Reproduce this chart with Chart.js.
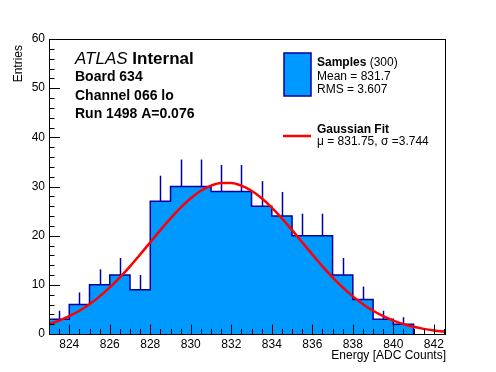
<!DOCTYPE html>
<html>
<head>
<meta charset="utf-8">
<script src="https://cdn.jsdelivr.net/npm/chart.js@4"></script>
<style>
  html, body { margin: 0; padding: 0; background: #fff; }
  #wrap { width: 496px; height: 372px; }
</style>
</head>
<body>
<div id="wrap"><canvas id="myChart" width="496" height="372"></canvas></div>
<script>
// histogram bins (lower edges, width 1 ADC count)
var binEdges = [823, 824, 825, 826, 827, 828, 829, 830, 831, 832, 833, 834, 835, 836, 837, 838, 839, 840];
var counts   = [3, 6, 10, 12, 9, 27, 30, 30, 29, 29, 26, 24, 20, 20, 12, 7, 3, 2];
var errors   = [1.73, 2.45, 3.16, 3.46, 3, 5.2, 5.48, 5.48, 5.39, 5.39, 5.1, 4.9, 4.47, 4.47, 3.46, 2.65, 1.73, 1.41];

// gaussian fit curve
var fitX = [823, 823.5, 824, 824.5, 825, 825.5, 826, 826.5, 827, 827.5, 828, 828.5, 829, 829.5, 830, 830.5,
            831, 831.5, 832, 832.5, 833, 833.5, 834, 834.5, 835, 835.5, 836, 836.5, 837, 837.5, 838, 838.5,
            839, 839.5, 840, 840.5, 841, 841.5, 842, 842.5, 842.6];
var fitY = [2.01, 2.72, 3.62, 4.72, 6.06, 7.65, 9.47, 11.52, 13.77, 16.17, 18.65, 21.13, 23.52, 25.71, 27.61, 29.13,
            30.19, 30.73, 30.73, 30.19, 29.13, 27.61, 25.71, 23.52, 21.13, 18.65, 16.17, 13.77, 11.52, 9.47, 7.65, 6.06,
            4.72, 3.62, 2.72, 2.01, 1.46, 1.04, 0.73, 0.5, 0.46];

var xTicks = [824, 826, 828, 830, 832, 834, 836, 838, 840, 842];
var yTicks = [0, 10, 20, 30, 40, 50, 60];

var FILL = '#0099ff';
var LINE = '#0000a0';
var FONT = "'Liberation Sans', Arial, Helvetica, sans-serif";

var histData = binEdges.map(function (e, i) { return {x: e, y: counts[i]}; });
histData.push({x: binEdges[binEdges.length - 1] + 1, y: 0});

var fitData = fitX.map(function (v, i) { return {x: v, y: fitY[i]}; });

var overlay = {
    id: 'overlay',
    afterDatasetDraw: function (chart, args) {
        if (args.index !== 1) return;
        var ctx = chart.ctx, x = chart.scales.x, y = chart.scales.y;
        ctx.save();
        ctx.strokeStyle = LINE;
        ctx.lineWidth = 1.5;
        counts.forEach(function (c, i) {
            if (!c) return;
            var px = Math.round(x.getPixelForValue(binEdges[i] + 0.5)) + 0.5;
            ctx.beginPath();
            ctx.moveTo(px, y.getPixelForValue(c));
            ctx.lineTo(px, y.getPixelForValue(c + errors[i]));
            ctx.stroke();
        });
        ctx.restore();
    },
    afterDraw: function (chart) {
        var ctx = chart.ctx, a = chart.chartArea, x = chart.scales.x, y = chart.scales.y;
        ctx.save();
        ctx.strokeStyle = '#000';
        ctx.lineWidth = 1;
        ctx.strokeRect(Math.round(a.left) + 0.5, Math.round(a.top) + 0.5,
                       Math.round(a.right - a.left) - 1, Math.round(a.bottom - a.top));

        // inward ticks
        var v, p;
        ctx.beginPath();
        for (v = 0; v <= 60; v += 2) {
            p = Math.round(y.getPixelForValue(v)) + 0.5;
            ctx.moveTo(a.left, p);
            ctx.lineTo(a.left + (v % 10 === 0 ? 11 : 5.5), p);
        }
        for (v = 823; v <= 842.6; v += 0.5) {
            p = Math.round(x.getPixelForValue(v)) + 0.5;
            ctx.moveTo(p, a.bottom);
            ctx.lineTo(p, a.bottom - (v % 2 === 0 ? 9.5 : 5));
        }
        ctx.stroke();

        // axis titles
        ctx.fillStyle = '#000';
        ctx.font = '12px ' + FONT;
        ctx.textAlign = 'right';
        ctx.textBaseline = 'alphabetic';
        ctx.fillText('Energy [ADC Counts]', a.right, 359);
        ctx.save();
        ctx.translate(22, 45);
        ctx.rotate(-Math.PI / 2);
        ctx.fillText('Entries', 0, 0);
        ctx.restore();

        // ATLAS label
        ctx.textAlign = 'left';
        ctx.font = 'italic 17px ' + FONT;
        ctx.fillText('ATLAS', 75, 63.5);
        var w = ctx.measureText('ATLAS ').width;
        ctx.font = 'bold 17px ' + FONT;
        ctx.fillText('Internal', 75 + w, 63.5);
        ctx.font = 'bold 14px ' + FONT;
        ctx.fillText('Board 634', 75, 80.5);
        ctx.fillText('Channel 066 lo', 75, 99.5);
        ctx.fillText('Run 1498 A=0.076', 75, 118);

        // legend
        ctx.fillStyle = FILL;
        ctx.fillRect(284, 53, 27, 43);
        ctx.strokeStyle = LINE;
        ctx.lineWidth = 1.5;
        ctx.strokeRect(284, 53, 27, 43);
        ctx.strokeStyle = '#ff0000';
        ctx.lineWidth = 2.5;
        ctx.beginPath();
        ctx.moveTo(283, 136);
        ctx.lineTo(311, 136);
        ctx.stroke();

        ctx.fillStyle = '#000';
        ctx.font = 'bold 12px ' + FONT;
        ctx.fillText('Samples', 317, 66);
        w = ctx.measureText('Samples').width;
        ctx.font = '12px ' + FONT;
        ctx.fillText(' (300)', 317 + w, 66);
        ctx.fillText('Mean = 831.7', 317, 79.5);
        ctx.fillText('RMS = 3.607', 317, 93);
        ctx.font = 'bold 12px ' + FONT;
        ctx.fillText('Gaussian Fit', 317, 133);
        ctx.font = '12px ' + FONT;
        ctx.fillText('\u03bc = 831.75, \u03c3 =3.744', 317, 145);
        ctx.restore();
    }
};

var ctx = document.getElementById('myChart').getContext('2d');
var myChart = new Chart(ctx, {
    type: 'line',
    data: {
        datasets: [{
            label: 'Gaussian Fit',
            data: fitData,
            borderColor: '#ff0000',
            borderWidth: 2.5,
            pointRadius: 0,
            fill: false,
            cubicInterpolationMode: 'monotone'
        },
        {
            label: 'Samples',
            data: histData,
            stepped: 'before',
            borderColor: LINE,
            borderWidth: 1.5,
            backgroundColor: FILL,
            pointRadius: 0,
            fill: 'origin'
        }]
    },
    options: {
        responsive: false,
        animation: false,
        devicePixelRatio: 1,
        layout: { padding: { left: 0, right: 50, top: 39, bottom: 0 } },
        plugins: {
            legend: { display: false },
            tooltip: { enabled: false }
        },
        scales: {
            x: {
                type: 'linear',
                min: 823,
                max: 842.6,
                grid: { display: false, drawTicks: false },
                border: { display: false },
                afterBuildTicks: function (s) { s.ticks = xTicks.map(function (v) { return {value: v}; }); },
                afterFit: function (s) { s.height = 38; },
                ticks: { color: '#000', padding: 3, maxRotation: 0, font: { family: FONT, size: 12 } }
            },
            y: {
                min: 0,
                max: 60,
                grid: { display: false, drawTicks: false },
                border: { display: false },
                afterBuildTicks: function (s) { s.ticks = yTicks.map(function (v) { return {value: v}; }); },
                afterFit: function (s) { s.width = 49; },
                ticks: { color: '#000', padding: 4, font: { family: FONT, size: 12 } }
            }
        }
    },
    plugins: [overlay]
});
</script>
</body>
</html>
